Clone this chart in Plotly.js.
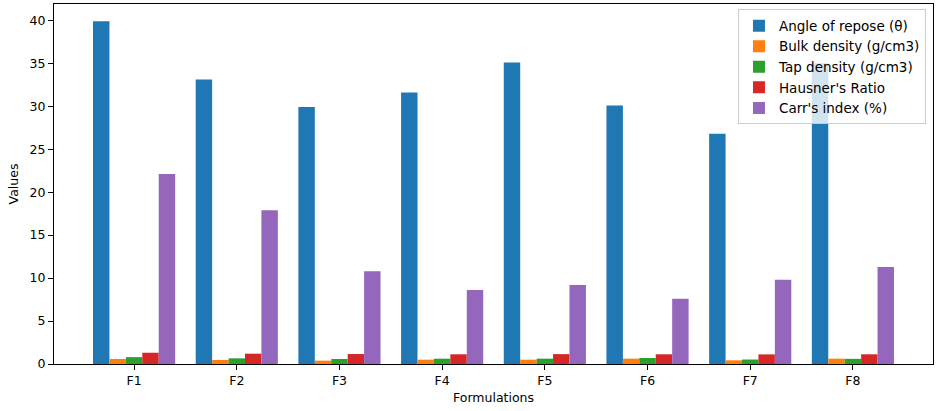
<!DOCTYPE html>
<html>
<head>
<meta charset="utf-8">
<script src="https://cdn.plot.ly/plotly-3.0.1.min.js"></script>
<style>html,body{margin:0;padding:0;background:#fff;}#chart{width:941px;height:411px;}</style>
</head>
<body>
<div id="chart"></div>
<script>
const categories = ["F1","F2","F3","F4","F5","F6","F7","F8"];
const angleOfRepose = [39.9, 33.1, 29.9, 31.6, 35.1, 30.1, 26.8, 35.0];
const bulkDensity = [0.58, 0.47, 0.39, 0.50, 0.50, 0.62, 0.43, 0.62];
const tapDensity = [0.80, 0.66, 0.58, 0.62, 0.62, 0.70, 0.52, 0.60];
const hausnerRatio = [1.31, 1.20, 1.16, 1.13, 1.15, 1.13, 1.12, 1.13];
const carrsIndex = [22.1, 17.9, 10.8, 8.6, 9.2, 7.6, 9.8, 11.3];
const seriesNames = ["Angle of repose (θ)", "Bulk density (g/cm3)", "Tap density (g/cm3)", "Hausner's Ratio", "Carr's index (%)"];
const seriesValues = [angleOfRepose, bulkDensity, tapDensity, hausnerRatio, carrsIndex];
const colors = ["#1f77b4", "#ff7f0e", "#2ca02c", "#d62728", "#9467bd"];

const traces = seriesValues.map((vals, i) => ({
  type: "bar",
  name: seriesNames[i],
  x: categories,
  y: vals,
  marker: {color: colors[i], line: {width: 0}}
}));

const font = {family: "DejaVu Sans, sans-serif", size: 12.5, color: "#000"};
const layout = {
  width: 941, height: 411,
  margin: {l: 54, r: 8, t: 4, b: 47},
  paper_bgcolor: "#fff", plot_bgcolor: "#fff",
  font: font,
  barmode: "group", bargap: 0.2, bargroupgap: 0,
  showlegend: true,
  legend: {
    x: 0.992, y: 0.985, xanchor: "right", yanchor: "top",
    bgcolor: "rgba(255,255,255,0.8)", bordercolor: "#cccccc", borderwidth: 1,
    font: {family: "DejaVu Sans, sans-serif", size: 13.5, color: "#000"},
    tracegroupgap: 0
  },
  xaxis: {
    type: "category",
    range: [-0.78, 7.78],
    showline: true, mirror: true, linecolor: "#000", linewidth: 1,
    ticks: "outside", ticklen: 5, tickcolor: "#000",
    showgrid: false, zeroline: false,
    title: {text: "Formulations", font: font, standoff: 6}
  },
  yaxis: {
    range: [0, 41.9],
    dtick: 5, tick0: 0,
    showline: true, mirror: true, linecolor: "#000", linewidth: 1,
    ticks: "outside", ticklen: 5, tickcolor: "#000",
    showgrid: false, zeroline: false,
    title: {text: "Values", font: font, standoff: 8}
  }
};
Plotly.newPlot("chart", traces, layout, {displayModeBar: false, staticPlot: true});
</script>
</body>
</html>
